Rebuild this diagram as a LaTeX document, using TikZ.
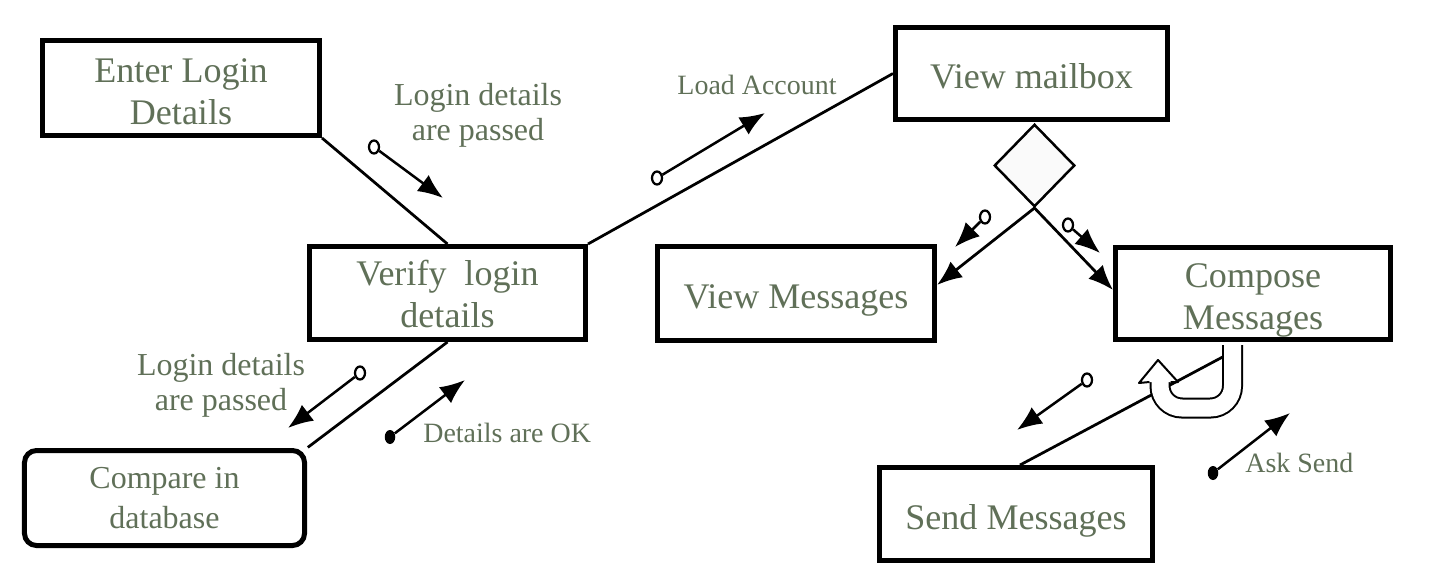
\documentclass[tikz,border=0pt]{standalone}
\usepackage{fontspec}
\setmainfont{Liberation Serif}
\usetikzlibrary{arrows.meta,shapes.geometric}
\definecolor{txt}{RGB}{96,112,88}
\begin{document}
\begin{tikzpicture}[x=0.2mm,y=-0.2mm,
  box/.style={draw,line width=1mm,fill=white,inner sep=0pt},
  boxt/.style={text=txt,inner sep=0pt,align=center,font={\fontsize{20.5}{23.9}\selectfont}},
  lbl/.style={text=txt,inner sep=0pt,align=center,font={\fontsize{18.2}{20}\selectfont}},
  slbl/.style={text=txt,inner sep=0pt,font={\fontsize{15.9}{18}\selectfont}},
  conn/.style={line width=0.55mm},
  tip/.style={-{Latex[length=5mm,width=4mm]}},
  flow/.style={line width=0.5mm,tip},
  opencp/.style={ellipse,draw,line width=0.45mm,fill=white,inner sep=0pt,minimum width=2mm,minimum height=2.6mm},
  dotcp/.style={ellipse,fill=black,inner sep=0pt,minimum width=2.1mm,minimum height=2.8mm},
  uturn/.style={double=white,double distance=3.4mm,line width=0.4mm,rounded corners=4.4mm},
]
\useasboundingbox[fill=white] (0,0) rectangle (1438,584);

% boxes
\node[box,minimum width=55.4mm,minimum height=19mm,
  label={[boxt,yshift=-0.7mm]center:{Enter Login\\Details}}] (enter) at (181,88) {};
\node[box,minimum width=55.2mm,minimum height=18.6mm,
  label={[boxt,yshift=-0.2mm]center:{Verify~~login\\details}}] (verify) at (447.5,293) {};
\node[box,rounded corners=2.4mm,minimum width=56mm,minimum height=19mm,
  label={[boxt,font={\fontsize{18.2}{22.8}\selectfont}]center:{Compare in\\database}}] (compare) at (164.5,498) {};
\node[diamond,draw,line width=0.5mm,fill=gray!4,inner sep=0pt,minimum width=16.1mm,
  minimum height=16.5mm] (dia) at (1034.5,165.5) {};
\node[box,minimum width=54.4mm,minimum height=18.4mm,
  label={[boxt,yshift=-0.6mm]center:{View mailbox}}] (mailbox) at (1031.5,73.5) {};
\node[box,minimum width=55.4mm,minimum height=18.8mm,
  label={[boxt,yshift=-1.3mm]center:{View Messages}}] (viewmsg) at (796,293.5) {};
\node[box,minimum width=55mm,minimum height=18.4mm,
  label={[boxt,yshift=-1.3mm]center:{Compose\\Messages}}] (compose) at (1253,293.5) {};
\node[box,minimum width=54.6mm,minimum height=18.6mm,
  label={[boxt,yshift=-1.3mm]center:{Send Messages}}] (send) at (1016,514) {};

% main connectors
\draw[conn] (enter.south east) -- (verify.north);
\draw[conn] (verify.north east) -- (mailbox.west);
\draw[conn,shorten >=0.2mm] (verify.south) -- (compare.north east);
\draw[conn,tip] (dia.south) -- ([yshift=1.7mm]viewmsg.east);
\draw[conn,tip] (dia.south) -- ([yshift=0.7mm]compose.west);
\coordinate (uin) at (1232,352);
\draw[conn] ([xshift=0.8mm]send.north) -- (uin);

% loop arrow on Compose Messages
\draw[uturn] (1232.5,345) -- (1232.5,408) -- (1160,408) -- (1160,382);
\coordinate (h1) at (1149.5,382);
\coordinate (h2) at (1139,383);
\coordinate (h3) at (1158,360);
\coordinate (h4) at (1178,382);
\coordinate (h5) at (1170.5,382);
\filldraw[fill=white,line width=0.4mm,line join=round] (h1) -- (h2) -- (h3) -- (h4) -- (h5);

% data couples
\node[opencp] (c1) at (374,147) {};
\coordinate (t1) at (443,198);
\draw[flow] (c1) -- (t1);
\node[opencp] (c2) at (657,178) {};
\coordinate (t2) at (765,113);
\draw[flow] (c2) -- (t2);
\node[opencp] (c3) at (360,373) {};
\coordinate (t3) at (288,428);
\draw[flow] (c3) -- (t3);
\node[dotcp] (c4) at (390,437) {};
\coordinate (t4) at (465,380);
\draw[flow] (c4) -- (t4);
\node[opencp] (c5) at (985,217) {};
\coordinate (t5) at (955,247);
\draw[flow] (c5) -- (t5);
\node[opencp] (c6) at (1068,225) {};
\coordinate (t6) at (1100,253);
\draw[flow] (c6) -- (t6);
\node[opencp] (c7) at (1087,380) {};
\coordinate (t7) at (1017,430);
\draw[flow] (c7) -- (t7);
\node[dotcp] (c8) at (1213,473) {};
\coordinate (t8) at (1290,413);
\draw[flow] (c8) -- (t8);

% labels
\node[lbl] (l1) at (478,115.5) {Login details\\are passed};
\node[slbl,anchor=base] (l2) at (757,95) {Load Account};
\node[lbl] (l3) at (221,385.5) {Login details\\are passed};
\node[slbl,anchor=base west] (l4) at (423,442) {Details are OK};
\node[slbl,anchor=base west] (l5) at (1245,472) {Ask Send};
\end{tikzpicture}
\end{document}
